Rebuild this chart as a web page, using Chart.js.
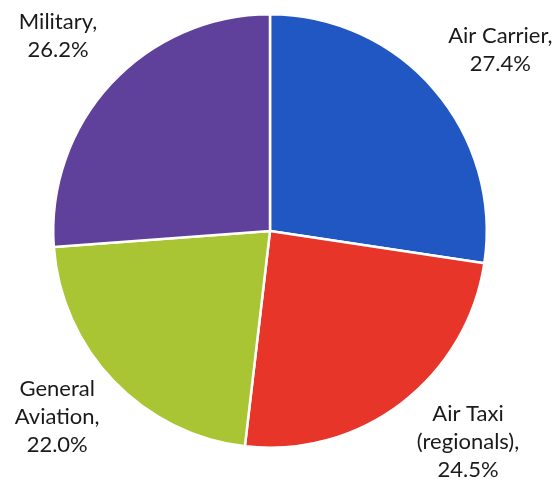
<!DOCTYPE html>
<html>
<head>
<meta charset="utf-8">
<script src="https://cdn.jsdelivr.net/npm/chart.js@4/dist/chart.umd.min.js"></script>
<style>
  html, body { margin: 0; padding: 0; background: #ffffff; }
  #wrap { width: 556px; height: 482px; }
</style>
</head>
<body>
<div id="wrap"><canvas id="chart-pie"></canvas></div>
<script>
// datos del gráfico
const categorias = ['Air Carrier', 'Air Taxi (regionals)', 'General Aviation', 'Military'];
const porcentajes = [27.4, 24.5, 22.0, 26.2];
const etiquetas = [
    ['Air Carrier,', '27.4%'],
    ['Air Taxi', '(regionals),', '24.5%'],
    ['General', 'Aviation,', '22.0%'],
    ['Military,', '26.2%']
];
const colores = ['#2157c3', '#e8352a', '#a9c534', '#5f419c'];

// ajuste fino de cada etiqueta respecto a su punto radial
const ajustes = [[7, 11], [19, -23], [0, -18], [4, 6]];

// plugin para dibujar las etiquetas fuera del pastel
const etiquetasFuera = {
    id: 'etiquetasFuera',
    afterDatasetsDraw(chart) {
        const ctx = chart.ctx;
        const meta = chart.getDatasetMeta(0);
        ctx.save();
        ctx.font = '22px Lato, "Open Sans", sans-serif';
        ctx.fillStyle = '#1a1a1a';
        ctx.textAlign = 'center';
        ctx.textBaseline = 'middle';
        meta.data.forEach((arco, i) => {
            const p = arco.getProps(['x', 'y', 'startAngle', 'endAngle', 'outerRadius'], true);
            const medio = (p.startAngle + p.endAngle) / 2;
            const dist = p.outerRadius * 1.36;
            const cx = p.x + Math.cos(medio) * dist + ajustes[i][0];
            const cy = p.y + Math.sin(medio) * dist + ajustes[i][1];
            const lineas = etiquetas[i];
            const alto = 28;
            lineas.forEach((txt, j) => {
                ctx.fillText(txt, cx, cy + (j - (lineas.length - 1) / 2) * alto);
            });
        });
        ctx.restore();
    }
};

const ctx = document.getElementById('chart-pie').getContext('2d');
new Chart(ctx, {
    type: 'pie',
    data: {
        labels: categorias,
        datasets: [{
            data: porcentajes,
            backgroundColor: colores,
            borderColor: '#ffffff',
            borderWidth: 2.5
        }]
    },
    options: {
        responsive: true,
        maintainAspectRatio: false,
        animation: false,
        layout: { padding: { top: 13, bottom: 33, left: 0, right: 16 } },
        plugins: {
            legend: { display: false },
            tooltip: { enabled: false }
        }
    },
    plugins: [etiquetasFuera]
});
</script>
</body>
</html>
